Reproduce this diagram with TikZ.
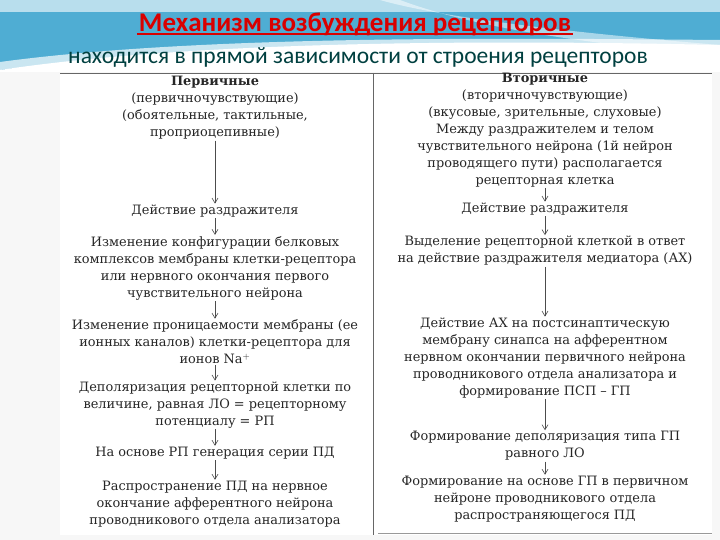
\documentclass[tikz,border=0pt]{standalone}
\usepackage{fontspec}
\setmainfont{DejaVu Serif}
\newfontfamily\titlefont{Carlito}
\usetikzlibrary{arrows.meta}
\begin{document}
\begin{tikzpicture}[x=1pt,y=-1pt,
  txt/.style={align=center,font=\fontsize{12.9}{17}\selectfont,text=black!85,inner sep=1pt},
  arr/.style={-{Straight Barb[length=5pt,width=6pt]},black!70,line width=0.6pt}]
\useasboundingbox (0,0) rectangle (720,540);
\fill[white] (0,0) rectangle (720,540);
% decorative background
\fill[cyan!60!teal!80] (0,0) rectangle (720,70);
\fill[white] (0,70) .. controls (200,40) and (500,40) .. (720,45) -- (720,540) -- (0,540) -- cycle;
\fill[white,opacity=0.6] (0,0) rectangle (720,12);
\fill[white,opacity=0.5] (380,0) .. controls (450,20) and (600,35) .. (720,45) -- (720,55) .. controls (600,45) and (480,30) .. (400,0) -- cycle;
\fill[white,opacity=0.7] (0,62) .. controls (200,35) and (500,38) .. (720,40) -- (720,48) .. controls (500,45) and (200,45) .. (0,70) -- cycle;
\fill[black!3] (0,72) rectangle (720,540);
\fill[white] (60,73) rectangle (712,535);
\draw[black!60] (60,73) -- (712,73);
\draw[black!60] (373,73) -- (373,535);
\draw[black!40] (378,533) -- (712,533);
% titles
\node[font=\titlefont\bfseries\fontsize{27}{30}\selectfont,text=red!85!black] (t1) at (355,24) {Механизм возбуждения рецепторов};
\draw[red!85!black,line width=2pt] ([xshift=2pt,yshift=5pt]t1.south west) -- ([xshift=-2pt,yshift=5pt]t1.south east);
\node[font=\titlefont\fontsize{23.5}{26}\selectfont,text=teal!50!black] (t2) at (358,57) {находится в прямой зависимости от строения рецепторов};
% left column
\node[txt] (l1) at (215,108) {\textbf{Первичные}\\(первичночувствующие)\\(обоятельные, тактильные,\\проприоцепивные)};
\node[txt] (l2) at (215,211) {Действие раздражителя};
\node[txt] (l3) at (215,268) {Изменение конфигурации белковых\\комплексов мембраны клетки-рецептора\\или нервного окончания первого\\чувствительного нейрона};
\node[txt] (l4) at (215,342) {Изменение проницаемости мембраны (ее\\ионных каналов) клетки-рецептора для\\ионов Na$^+$};
\node[txt] (l5) at (215,405) {Деполяризация рецепторной клетки по\\величине, равная ЛО = рецепторному\\потенциалу = РП};
\node[txt] (l6) at (215,453) {На основе РП генерация серии ПД};
\node[txt] (l7) at (215,504) {Распространение ПД на нервное\\окончание афферентного нейрона\\проводникового отдела анализатора};
% right column
\node[txt] (r1) at (545,130) {\textbf{Вторичные}\\(вторичночувствующие)\\(вкусовые, зрительные, слуховые)\\Между раздражителем и телом\\чувствительного нейрона (1й нейрон\\проводящего пути) располагается\\рецепторная клетка};
\node[txt] (r2) at (545,209) {Действие раздражителя};
\node[txt] (r3) at (545,251) {Выделение рецепторной клеткой в ответ\\на действие раздражителя медиатора (АХ)};
\node[txt] (r4) at (545,358) {Действие АХ на постсинаптическую\\мембрану синапса на афферентном\\нервном окончании первичного нейрона\\проводникового отдела анализатора и\\формирование ПСП -- ГП};
\node[txt] (r5) at (545,446) {Формирование деполяризация типа ГП\\равного ЛО};
\node[txt] (r6) at (545,499) {Формирование на основе ГП в первичном\\нейроне проводникового отдела\\распространяющегося ПД};
\foreach \a/\b in {l1/l2,l2/l3,l3/l4,l4/l5,l5/l6,l6/l7,r1/r2,r2/r3,r3/r4,r4/r5,r5/r6}
  \draw[arr] (\a.south) -- (\b.north);
\end{tikzpicture}
\end{document}
